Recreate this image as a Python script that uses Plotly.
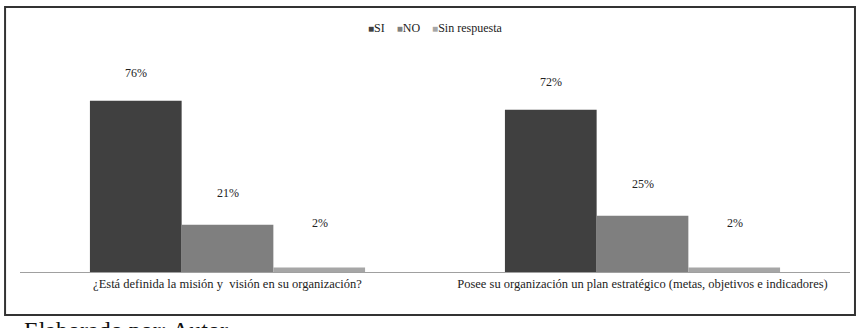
import plotly.graph_objects as go

categories = ["¿Está definida la misión y  visión en su organización?",
              "Posee su organización un plan estratégico (metas, objetivos e indicadores)"]
series_names = ["SI", "NO", "Sin respuesta"]
si_values = [76, 72]
no_values = [21, 25]
sin_values = [2, 2]
series_values = [si_values, no_values, sin_values]
colors = ["#404040", "#7f7f7f", "#a6a6a6"]
label_shift = [28, 32, 45]

FONT = "Times New Roman, Liberation Serif, DejaVu Serif, serif"
fig = go.Figure()
for name, vals, col in zip(series_names, series_values, colors):
    fig.add_trace(go.Bar(x=categories, y=vals, name=name, showlegend=False,
                         marker=dict(color=col, line=dict(width=0))))

# value labels placed above the bars
for si, (vals, shift) in enumerate(zip(series_values, label_shift)):
    for ci, v in enumerate(vals):
        fig.add_annotation(x=categories[ci], y=v, text=f"{v}%", showarrow=False,
                           xref="x", yref="y", yshift=shift,
                           xshift=(si - 1) * 92,
                           font=dict(family=FONT, size=12, color="#222"))

# compact legend
legend_text = "&nbsp;&nbsp;&nbsp;&nbsp;".join(
    f"<span style='color:{c}; font-size:10px'>■</span>{n}" for n, c in zip(series_names, colors))
fig.add_annotation(text=legend_text, xref="paper", yref="paper", x=0.5, y=1.052,
                   xanchor="center", yanchor="middle", showarrow=False,
                   font=dict(family=FONT, size=12, color="#222"))

fig.add_shape(type="rect", xref="paper", yref="paper", x0=-0.018, x1=1.006, y0=-0.185, y1=1.142,
              line=dict(color="#333", width=2), layer="below")
fig.add_annotation(text="Elaborado por: Autor", xref="paper", yref="paper", x=0.003, y=-0.185,
                   xanchor="left", yanchor="top", showarrow=False,
                   font=dict(family=FONT, size=24, color="#111"))

fig.update_layout(
    width=868, height=328,
    margin=dict(l=20, r=18, t=40, b=56, autoexpand=False),
    paper_bgcolor="white", plot_bgcolor="white",
    barmode="group", bargap=0.337, bargroupgap=0,
    font=dict(family=FONT, size=10, color="#222"),
    showlegend=False,
)
fig.update_xaxes(showline=True, linecolor="#a0a0a0", linewidth=1, ticks="",
                 tickfont=dict(family=FONT, size=12.5, color="#222"), automargin=False)
fig.update_yaxes(range=[0, 103], visible=False)
fig.write_html("out.html", config={"displayModeBar": False},
               post_script="document.body.style.margin='0px';")
